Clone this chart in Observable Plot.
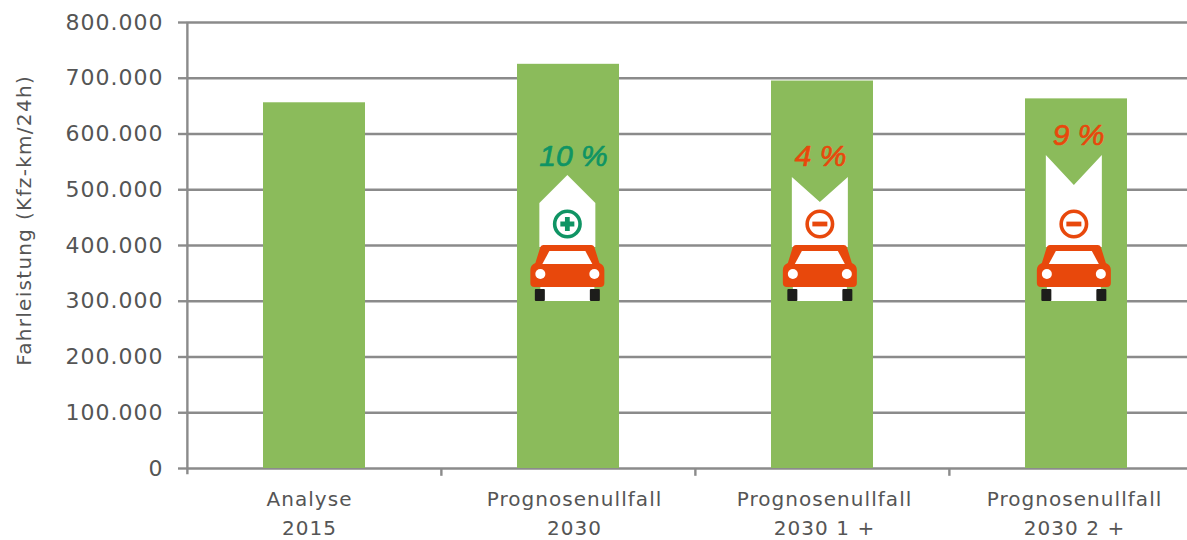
<!DOCTYPE html>
<html lang="de">
<head>
<meta charset="utf-8">
<title>Fahrleistung</title>
<script src="https://cdn.jsdelivr.net/npm/d3@7"></script>
<script src="https://cdn.jsdelivr.net/npm/@observablehq/plot@0.6"></script>
<style>
  html, body { margin: 0; padding: 0; background: #fff; overflow: hidden; }
  svg { display: block; }
  g[aria-label="y-axis tick label"] { letter-spacing: 1px; }
</style>
</head>
<body>
<div id="chart"></div>
<script>
// Scenario names and daily vehicle kilometres
const categories = ["Analyse\n2015", "Prognosenullfall\n2030", "Prognosenullfall\n2030 1 +", "Prognosenullfall\n2030 2 +"];
const mileage = [656000, 725000, 695000, 663000];
const yTicks = [0, 100000, 200000, 300000, 400000, 500000, 600000, 700000, 800000];

// Change against the reference case, one entry per scenario that has a badge
const changeScenarios = categories.slice(1);
const changeLabels = ["10 %", "4 %", "9 %"];
const changeDirections = ["up", "down", "down"];

// Frame
const W = 1187, H = 540;
const xRange = [186, 1203];
const step = (xRange[1] - xRange[0]) / categories.length;
const barW = step * 0.4;

const GREY = "#8b8b8b", TEXT = "#555", BAR = "#8bbb5b";
const RED = "#e8480c", GREEN = "#0f9464";
const FONT = "'DejaVu Sans', sans-serif";

const tableRows = categories.map((name, i) => ({name, km: mileage[i]}));
const badgeRows = changeScenarios.map((name, i) => ({name, label: changeLabels[i], dir: changeDirections[i]}));

// Small horizontal nudges of the captions away from the band centres
const captionNudge = [-5, 6, 2, -2];
const changeNudge = {"10 %": 5, "4 %": -2, "9 %": 2};

// Render hook that widens the tracking of a text mark
const tracked = spacing => (index, scales, values, dimensions, context, next) => {
  const g = next(index, scales, values, dimensions, context);
  g.style.letterSpacing = spacing;
  return g;
};

// Car with arrow and sign, anchored on the band centre at the 400.000 line
function badges(index, scales) {
  const ns = "http://www.w3.org/2000/svg";
  const g = document.createElementNS(ns, "g");
  const geometry = {
    "10 %": {dx: -0.5, head: -70, shoulder: -42},
    "4 %": {dx: -2, head: -68, shoulder: -43},
    "9 %": {dx: -2, head: -90, shoulder: -60}
  };
  for (const b of badgeRows) {
    const cx = scales.x(b.name) + barW / 2 + geometry[b.label].dx;
    const top = scales.y(400000);
    const {head, shoulder} = geometry[b.label];
    const color = b.dir === "up" ? GREEN : RED;
    const arrow = b.dir === "up"
      ? `M-28 2V${shoulder}L0 ${head}L28 ${shoulder}V2Z`
      : `M-28 2V${head}L0 ${shoulder}L28 ${head}V2Z`;
    const sign = b.dir === "up"
      ? `<path d="M-7 0H7M0 -7V7" stroke="${color}" stroke-width="4.8" fill="none"/>`
      : `<path d="M-7.5 0H7.5" stroke="${color}" stroke-width="4.8" fill="none"/>`;
    const piece = document.createElementNS(ns, "g");
    piece.setAttribute("transform", `translate(${cx},${top})`);
    piece.innerHTML = `
      <path d="${arrow}" fill="#fff"/>
      <g transform="translate(0,-21)">
        <circle r="12.7" fill="#fff" stroke="${color}" stroke-width="3.6"/>${sign}
      </g>
      <rect x="-27" y="40" width="54" height="16" fill="#fff"/>
      <rect x="-32.5" y="44" width="10" height="12" rx="1" fill="#1d1d1b"/>
      <rect x="22.5" y="44" width="10" height="12" rx="1" fill="#1d1d1b"/>
      <path d="M-24 0H24Q26 0 27 2L32 18Q37 20 37 25V38Q37 42 33 42H-33Q-37 42 -37 38V25Q-37 20 -32 18L-27 2Q-26 0 -24 0Z" fill="${RED}"/>
      <path d="M-18 6H18L25 19H-25Z" fill="#fff"/>
      <circle cx="-27" cy="29" r="5" fill="#fff"/>
      <circle cx="27" cy="29" r="5" fill="#fff"/>`;
    g.appendChild(piece);
  }
  return g;
}

const chart = Plot.plot({
  width: W,
  height: H,
  marginTop: 22,
  marginBottom: 72,
  marginLeft: 186,
  marginRight: 0,
  style: {background: "#fff", fontFamily: FONT},
  x: {domain: categories, range: xRange, paddingInner: 0.6, paddingOuter: 0.3, axis: null},
  y: {domain: [0, 800000], range: [468, 22], axis: null},
  marks: [
    // Grid lines running off to the right edge
    Plot.ruleY(yTicks, {stroke: GREY, strokeWidth: 2.4}),
    Plot.axisY({
      ticks: yTicks,
      tickSize: 8,
      tickPadding: 15,
      label: null,
      stroke: GREY,
      strokeWidth: 2.4,
      fill: TEXT,
      fontSize: 22,
      fontFamily: FONT,
      tickFormat: d => d3.format(",")(d).replace(",", ".")
    }),
    // Vertical axis line and the ticks between the scenario bands
    Plot.ruleX([categories[0]], {x: d => d, y1: -11000, y2: 800000, dx: -step / 2, stroke: GREY, strokeWidth: 2.4}),
    Plot.ruleX(categories.slice(1), {x: d => d, y1: 0, y2: -14000, dx: -step / 2, stroke: GREY, strokeWidth: 2.4}),
    Plot.text(["Fahrleistung (Kfz-km/24h)"], {
      text: d => d,
      frameAnchor: "left",
      textAnchor: "middle",
      y: 445000,
      dx: -162,
      rotate: -90,
      fill: TEXT,
      fontSize: 20,
      fontFamily: FONT,
      render: tracked("1.3px")
    }),
    Plot.barY(tableRows, {x: "name", y: "km", fill: BAR}),
    ...tableRows.map((row, i) => Plot.text([row], {
      x: "name",
      y: 0,
      text: "name",
      dx: captionNudge[i],
      dy: 42.5,
      fill: TEXT,
      fontSize: 20,
      fontFamily: FONT,
      lineHeight: 1.45,
      render: tracked("1.05px")
    })),
    badges,
    ...badgeRows.map(row => Plot.text([row], {
      x: "name",
      y: {"10 %": 560000, "4 %": 560000, "9 %": 597000}[row.label],
      dx: changeNudge[row.label],
      text: "label",
      fill: row.dir === "up" ? GREEN : RED,
      stroke: row.dir === "up" ? GREEN : RED,
      strokeWidth: 0.7,
      fontSize: 30,
      fontStyle: "italic",
      fontFamily: "'Liberation Sans', sans-serif"
    }))
  ]
});
document.getElementById("chart").appendChild(chart);
</script>
</body>
</html>
